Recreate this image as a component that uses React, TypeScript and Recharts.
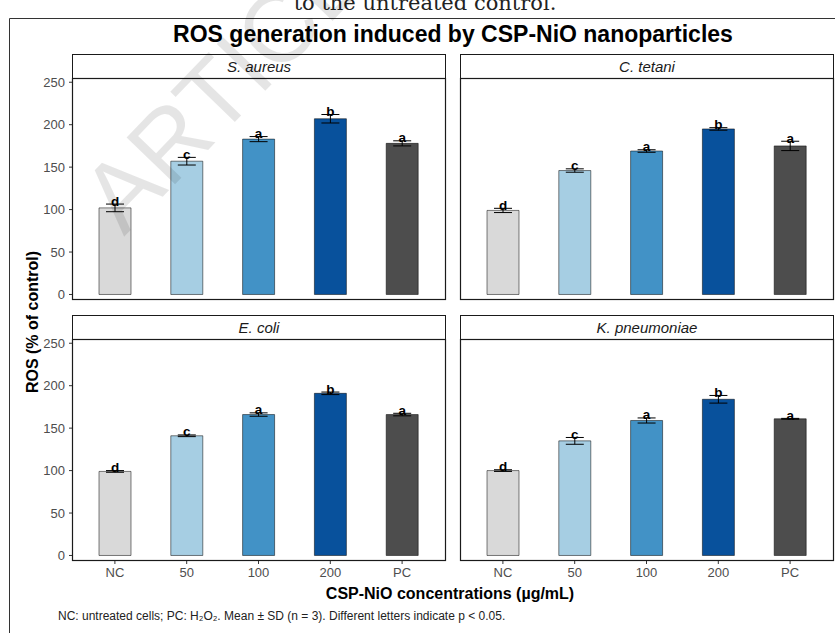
import React from "react";
import { BarChart, Bar, XAxis, YAxis, ErrorBar, LabelList, Cell } from "recharts";

const concentrations = ["NC", "50", "100", "200", "PC"];
const fillColors = ["#D9D9D9", "#A6CEE3", "#4292C6", "#08519C", "#4D4D4D"];
const yTicks = [0, 50, 100, 150, 200, 250];

const saureusMean = [102, 157, 183, 207, 178];
const saureusSd = [4.5, 4.5, 3, 5, 3];
const saureusLetters = ["d", "c", "a", "b", "a"];

const ctetaniMean = [99, 146, 169, 195, 175];
const ctetaniSd = [2.5, 2, 1.5, 1.5, 5.5];
const ctetaniLetters = ["d", "c", "a", "b", "a"];

const ecoliMean = [99, 141, 166, 191, 166];
const ecoliSd = [1, 1, 2, 1.5, 1.5];
const ecoliLetters = ["d", "c", "a", "b", "a"];

const kpneuMean = [100, 135, 159, 184, 161];
const kpneuSd = [1, 4, 3, 4.5, 0.5];
const kpneuLetters = ["d", "c", "a", "b", "a"];

const FONT = "'Liberation Sans', Arial, Helvetica, sans-serif";

// facet grid geometry (plot panels only, strips sit above)
const PANEL_W = 373;
const PANEL_H = 222;
const STRIP_H = 24;
const COL_X = [72, 460];
const ROW_Y = [78, 339];
const Y_AXIS_W = 72;
const X_AXIS_H = 30;
const PAD = 10; // spare room so edge tick labels aren't clipped

interface Facet {
  name: string;
  mean: number[];
  sd: number[];
  letters: string[];
}

const facets: Facet[] = [
  { name: "S. aureus", mean: saureusMean, sd: saureusSd, letters: saureusLetters },
  { name: "C. tetani", mean: ctetaniMean, sd: ctetaniSd, letters: ctetaniLetters },
  { name: "E. coli", mean: ecoliMean, sd: ecoliSd, letters: ecoliLetters },
  { name: "K. pneumoniae", mean: kpneuMean, sd: kpneuSd, letters: kpneuLetters },
];

const axisTick = { fill: "#4D4D4D", fontSize: 13, fontFamily: FONT };

function FacetChart({ facet, col, row }: { facet: Facet; col: number; row: number }) {
  const left = COL_X[col];
  const top = ROW_Y[row];
  const showY = col === 0;
  const showX = row === 1;
  const data = concentrations.map((c, i) => ({
    conc: c,
    mean: facet.mean[i],
    sd: facet.sd[i],
    letter: facet.letters[i],
  }));
  const chartLeft = showY ? left - Y_AXIS_W : left;
  const chartW = PANEL_W + (showY ? Y_AXIS_W : 0);
  const chartH = PANEL_H + (showX ? X_AXIS_H : 0) + PAD * 2;

  // letter sits on the top of the error bar
  const renderLetter = (props: any) => {
    const vb = props.viewBox ?? {};
    const x = Number(props.x ?? vb.x);
    const y = Number(props.y ?? vb.y);
    const w = Number(props.width ?? vb.width);
    const h = Number(props.height ?? vb.height);
    const i = Number(props.index ?? 0);
    const d = data[i];
    const errTop = y - (d.sd * h) / d.mean;
    return (
      <text
        x={x + w / 2}
        y={errTop + 1.5}
        textAnchor="middle"
        fontFamily={FONT}
        fontWeight="bold"
        fontSize={13.5}
        fill="#000"
      >
        {d.letter}
      </text>
    );
  };

  return (
    <div style={{ position: "absolute", left: chartLeft, top: top - PAD, width: chartW, height: chartH }}>
      <BarChart width={chartW} height={chartH} data={data} margin={{ top: PAD, right: 0, bottom: PAD, left: 0 }}>
        <XAxis
          dataKey="conc"
          hide={!showX}
          padding={{ left: 7, right: 7 }}
          axisLine={false}
          tickLine={{ stroke: "#333" }}
          tickSize={3}
          tickMargin={4}
          height={X_AXIS_H}
          interval={0}
          tick={axisTick}
        />
        <YAxis
          type="number"
          domain={[-6.5, 255]}
          ticks={yTicks}
          allowDataOverflow
          hide={!showY}
          width={Y_AXIS_W}
          axisLine={false}
          tickLine={{ stroke: "#333" }}
          tickSize={3}
          tickMargin={4}
          interval={0}
          tick={axisTick}
        />
        <Bar dataKey="mean" barSize={32} isAnimationActive={false} stroke="#000" strokeOpacity={0.5} strokeWidth={1}>
          {data.map((d, i) => (
            <Cell key={d.conc} fill={fillColors[i]} />
          ))}
          <ErrorBar dataKey="sd" width={9} stroke="#000" strokeWidth={1} direction="y" isAnimationActive={false} />
          <LabelList dataKey="letter" content={renderLetter} />
        </Bar>
      </BarChart>
    </div>
  );
}

export default function App() {
  return (
    <div
      style={{
        position: "absolute",
        left: 0,
        top: 0,
        width: 835,
        height: 633,
        background: "#fff",
        overflow: "hidden",
        fontFamily: FONT,
      }}
    >
      {facets.map((f, k) => (
        <FacetChart key={f.name} facet={f} col={k % 2} row={Math.floor(k / 2)} />
      ))}
      <svg
        width={835}
        height={633}
        style={{ position: "absolute", left: 0, top: 0, pointerEvents: "none" }}
      >
        {/* caption line cut off above the figure */}
        <text x={425} y={10} textAnchor="middle" fontFamily="'DejaVu Serif', serif" fontSize={21} fill="#222">
          to the untreated control.
        </text>
        <path d="M9.5 633 V18.5 H835" stroke="#333" strokeWidth={1} fill="none" />

        <text x={453} y={42} textAnchor="middle" fontFamily={FONT} fontWeight="bold" fontSize={23} fill="#000">
          ROS generation induced by CSP-NiO nanoparticles
        </text>

        {facets.map((f, k) => {
          const x = COL_X[k % 2] + 0.5;
          const y = ROW_Y[Math.floor(k / 2)] + 0.5;
          return (
            <g key={f.name}>
              <rect x={x} y={y - STRIP_H} width={PANEL_W} height={STRIP_H} fill="#fff" stroke="#1a1a1a" strokeWidth={1} />
              <text
                x={x + PANEL_W / 2}
                y={y - STRIP_H / 2 + 5}
                textAnchor="middle"
                fontFamily={FONT}
                fontStyle="italic"
                fontSize={15}
                fill="#1a1a1a"
              >
                {f.name}
              </text>
              <rect x={x} y={y} width={PANEL_W} height={PANEL_H - 1} fill="none" stroke="#1a1a1a" strokeWidth={1.2} />
            </g>
          );
        })}

        <text
          transform="translate(38 322) rotate(-90)"
          textAnchor="middle"
          fontFamily={FONT}
          fontWeight="bold"
          fontSize={16}
          fill="#000"
        >
          ROS (% of control)
        </text>
        <text x={450} y={599} textAnchor="middle" fontFamily={FONT} fontWeight="bold" fontSize={16} fill="#000">
          CSP-NiO concentrations (µg/mL)
        </text>
        <text x={58} y={620} fontFamily={FONT} fontSize={12} fill="#222">
          NC: untreated cells; PC: H₂O₂. Mean ± SD (n = 3). Different letters indicate p &lt; 0.05.
        </text>

        <text
          transform="translate(124 237) rotate(-46)"
          fontFamily={FONT}
          fontSize={98}
          fill="#000"
          fillOpacity={0.1}
        >
          ARTICLE IN PRESS
        </text>
      </svg>
    </div>
  );
}
